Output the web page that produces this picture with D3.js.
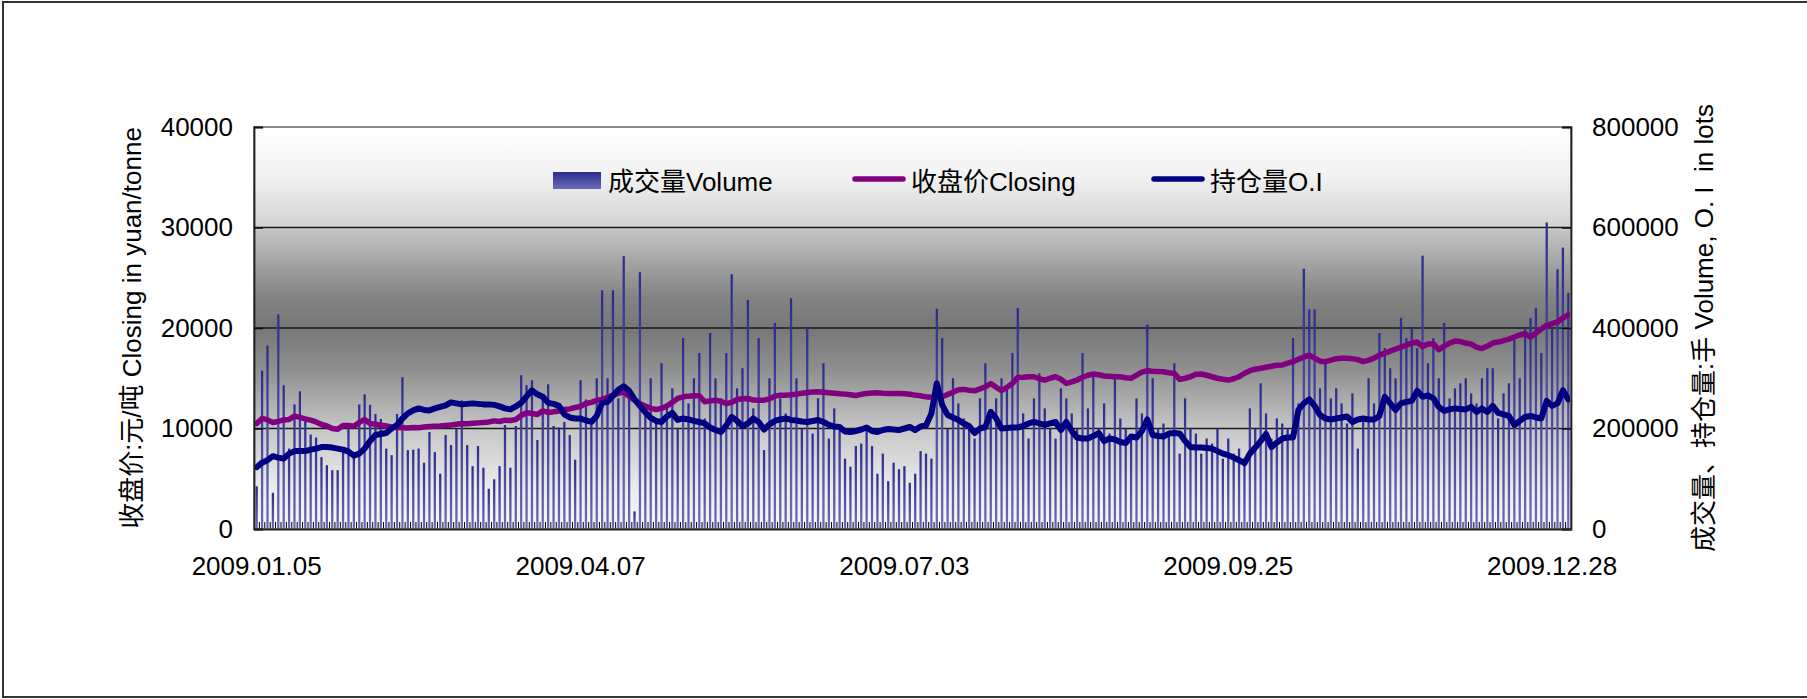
<!DOCTYPE html>
<html>
<head>
<meta charset="utf-8">
<script src="https://cdn.jsdelivr.net/npm/d3@7"></script>
<style>
  body { margin: 0; background: #fff; }
  svg text { font-family: "Liberation Sans", Arial, "Noto Sans CJK SC", sans-serif; fill: #000; }
</style>
</head>
<body>
<div id="chart"></div>
<script>
// trading days of 2009, one list per month
const monthDays = [
  [5,6,7,8,9,12,13,14,15,16,19,20,21,22,23],
  [2,3,4,5,6,9,10,11,12,13,16,17,18,19,20,23,24,25,26,27],
  [2,3,4,5,6,9,10,11,12,13,16,17,18,19,20,23,24,25,26,27,30,31],
  [1,2,3,7,8,9,10,13,14,15,16,17,20,21,22,23,24,27,28,29,30],
  [4,5,6,7,8,11,12,13,14,15,18,19,20,21,22,25,26,27],
  [1,2,3,4,5,8,9,10,11,12,15,16,17,18,19,22,23,24,25,26,29,30],
  [1,2,3,6,7,8,9,10,13,14,15,16,17,20,21,22,23,24,27,28,29,30,31],
  [3,4,5,6,7,10,11,12,13,14,17,18,19,20,21,24,25,26,27,28,31],
  [1,2,3,4,7,8,9,10,11,14,15,16,17,18,21,22,23,24,25,28,29,30],
  [9,12,13,14,15,16,19,20,21,22,23,26,27,28,29,30],
  [2,3,4,5,6,9,10,11,12,13,16,17,18,19,20,23,24,25,26,27,30],
  [1,2,3,4,7,8,9,10,11,14,15,16,17,18,21,22,23,24,25,28,29,30,31]
];
const pad = n => (n < 10 ? "0" : "") + n;
const dates = monthDays.flatMap((days, m) => days.map(d => "2009." + pad(m + 1) + "." + pad(d)));

const tickLabels = ["2009.01.05", "2009.04.07", "2009.07.03", "2009.09.25", "2009.12.28"];
const leftTicks = [0, 10000, 20000, 30000, 40000];
const rightTicks = [0, 200000, 400000, 600000, 800000];

// 成交量 volume, in thousand lots
const volume = [
  85,315,365,72,427,286,160,248,274,217,
  188,182,143,127,117,117,160,203,149,248,
  268,247,229,219,160,147,229,302,157,158,
  160,132,193,153,110,187,167,200,256,167,
  125,165,122,80,99,125,207,122,205,306,
  286,296,177,264,288,205,202,213,187,138,
  296,258,207,300,475,300,475,260,543,280,
  35,511,240,300,210,330,250,280,200,380,
  250,300,350,220,390,300,260,350,507,280,
  320,456,240,380,157,300,410,260,230,459,
  300,200,400,190,260,330,180,240,200,140,
  124,165,170,200,165,110,150,95,132,119,
  125,92,110,155,150,140,438,380,200,300,
  250,220,200,180,260,330,220,260,300,280,
  350,440,230,180,260,310,240,200,180,280,
  260,230,200,350,240,310,200,250,190,300,
  220,200,180,260,230,407,300,200,210,190,
  330,150,260,200,190,150,180,170,200,140,
  180,150,160,140,240,200,290,230,180,220,
  210,200,380,250,518,437,437,280,330,260,
  280,250,210,270,160,220,300,250,390,360,
  320,300,420,380,400,360,544,330,380,300,
  410,260,280,290,300,270,250,300,320,320,
  220,270,290,380,300,400,420,440,350,610,
  400,517,560,470
];

// 收盘价 closing, yuan/tonne
const closing = [
  10500,11000,10850,10600,10700,10850,10900,11230,11100,10950,
  10830,10650,10400,10250,10000,9930,10300,10300,10230,10600,
  10900,10500,10420,10330,10250,10150,10100,10080,10050,10100,
  10070,10150,10200,10230,10250,10300,10350,10430,10500,10480,
  10520,10560,10600,10650,10760,10700,10830,10800,10900,11300,
  11560,11500,11400,11760,11600,11660,11750,11890,11950,12090,
  12200,12490,12600,12800,12900,13100,13320,13500,13650,13200,
  12820,12500,12230,12000,11890,12000,12230,12600,12990,13150,
  13220,13250,13260,12660,12750,12820,12700,12490,12600,12890,
  12950,12990,12830,12820,12820,12950,13220,13300,13320,13350,
  13420,13500,13590,13620,13650,13600,13550,13500,13450,13420,
  13350,13290,13400,13490,13530,13560,13500,13480,13490,13490,
  13450,13400,13320,13250,13160,13100,13090,13150,13390,13600,
  13850,13890,13800,13750,13950,14150,14480,14100,13760,14100,
  14480,15080,15100,15150,15150,14950,14820,15000,15150,14900,
  14490,14650,14820,15100,15300,15420,15350,15220,15200,15150,
  15150,15050,14990,15300,15600,15750,15700,15680,15650,15550,
  15480,14890,15000,15150,15400,15420,15300,15150,15000,14900,
  14820,14950,15150,15500,15750,15900,16000,16100,16200,16300,
  16320,16500,16650,16900,17100,17310,17000,16700,16650,16800,
  16950,16980,17000,16950,16850,16650,16800,17000,17300,17500,
  17700,17900,18100,18300,18500,18600,18150,18400,18440,17850,
  18200,18500,18700,18650,18500,18400,18100,17950,18200,18500,
  18600,18750,18900,19100,19300,19430,19100,19500,19900,20270,
  20430,20600,21000,21300
];

// 持仓量 open interest, in thousand lots
const openInterest = [
  123,132,137,145,142,140,150,155,155,155,
  158,160,163,163,162,160,158,154,146,150,
  160,175,187,189,191,200,207,220,230,236,
  240,237,236,240,243,246,252,250,248,249,
  250,249,248,248,247,244,240,238,244,251,
  264,276,268,263,251,249,245,228,222,220,
  220,216,213,225,251,253,265,277,284,275,
  258,245,232,221,215,213,224,231,217,220,
  218,215,213,210,202,197,193,206,223,215,
  205,210,220,213,198,208,215,218,220,217,
  216,214,213,215,217,213,207,204,203,194,
  193,195,198,202,195,193,197,199,198,197,
  200,203,197,204,206,230,290,247,227,222,
  217,210,205,191,200,203,233,220,200,201,
  202,202,205,210,213,210,207,210,213,197,
  213,195,182,180,180,185,191,175,180,178,
  173,171,184,182,195,218,187,185,184,190,
  191,190,175,163,162,162,161,160,155,150,
  147,142,137,131,150,162,175,189,163,172,
  180,182,182,237,250,258,245,227,220,218,
  220,222,224,213,218,220,218,218,225,263,
  250,237,250,253,255,275,263,266,260,243,
  235,238,240,239,238,243,233,240,233,245,
  231,228,225,207,215,223,225,222,220,255,
  245,250,276,258
];

const W = 1807, H = 699;
const plot = { left: 254, right: 1571, top: 127, bottom: 529 };

const svg = d3.select("#chart").append("svg")
  .attr("width", W).attr("height", H);

const defs = svg.append("defs");
const bg = defs.append("linearGradient").attr("id", "plotBg")
  .attr("x1", 0).attr("y1", 0).attr("x2", 0).attr("y2", 1);
[[0, "#ffffff"], [0.12, "#f2f2f2"], [0.25, "#d2d2d2"], [0.26, "#c2c2c2"], [0.42, "#848484"],
 [0.5, "#777777"], [0.6, "#8e8e8e"], [0.75, "#c6c6c6"], [0.9, "#ececec"], [1, "#f8f8f8"]]
  .forEach(s => bg.append("stop").attr("offset", s[0]).attr("stop-color", s[1]));
const barGrad = defs.append("linearGradient").attr("id", "barFill")
  .attr("x1", 0).attr("y1", 0).attr("x2", 0).attr("y2", 1);
barGrad.append("stop").attr("offset", 0).attr("stop-color", "#2c2c90");
barGrad.append("stop").attr("offset", 1).attr("stop-color", "#6c6cb6");

// outer frame (right edge runs off the picture)
svg.append("rect").attr("x", 3).attr("y", 2).attr("width", W + 10).attr("height", H - 4)
  .attr("fill", "#fff").attr("stroke", "#333").attr("stroke-width", 2);

const x = d3.scaleBand().domain(dates).range([plot.left, plot.right]).padding(0);
const yL = d3.scaleLinear().domain([0, 40000]).range([plot.bottom, plot.top]);
const yR = d3.scaleLinear().domain([0, 800000]).range([plot.bottom, plot.top]);

svg.append("rect").attr("x", plot.left).attr("y", plot.top)
  .attr("width", plot.right - plot.left).attr("height", plot.bottom - plot.top)
  .attr("fill", "url(#plotBg)");

// gridlines
svg.append("g").selectAll("line").data(leftTicks.slice(1, -1)).join("line")
  .attr("x1", plot.left).attr("x2", plot.right)
  .attr("y1", d => yL(d)).attr("y2", d => yL(d))
  .attr("stroke", "#1a1a1a").attr("stroke-width", 1.3);

// volume bars
const bw = x.bandwidth() * 0.42;
svg.append("g").selectAll("rect").data(volume).join("rect")
  .attr("x", (d, i) => x(dates[i]) + (x.bandwidth() - bw) / 2)
  .attr("y", d => yR(d * 1000))
  .attr("width", bw)
  .attr("height", d => plot.bottom - yR(d * 1000))
  .attr("fill", "url(#barFill)");

// category tick marks, pointing up into the plot
const edges = dates.map(d => x(d)).concat([plot.right]);
svg.append("g").selectAll("line").data(edges).join("line")
  .attr("x1", d => d).attr("x2", d => d)
  .attr("y1", plot.bottom).attr("y2", plot.bottom - 7)
  .attr("stroke", "#000").attr("stroke-width", 1);

// lines
const cx = i => x(dates[i]) + x.bandwidth() / 2;
const closeLine = d3.line().x((d, i) => cx(i)).y(d => yL(d));
const oiLine = d3.line().x((d, i) => cx(i)).y(d => yR(d * 1000));

svg.append("path").datum(closing).attr("d", closeLine)
  .attr("fill", "none").attr("stroke", "#800080").attr("stroke-width", 5.5)
  .attr("stroke-linejoin", "round").attr("stroke-linecap", "round");
svg.append("path").datum(openInterest).attr("d", oiLine)
  .attr("fill", "none").attr("stroke", "#000080").attr("stroke-width", 6)
  .attr("stroke-linejoin", "round").attr("stroke-linecap", "round");

// plot frame
svg.append("rect").attr("x", plot.left).attr("y", plot.top)
  .attr("width", plot.right - plot.left).attr("height", plot.bottom - plot.top)
  .attr("fill", "none").attr("stroke", "#8a8a8a").attr("stroke-width", 2);

// axes
const fontSize = 26;
const axL = svg.append("g").attr("transform", `translate(${plot.left},0)`)
  .call(d3.axisLeft(yL).tickValues(leftTicks).tickSize(-9).tickPadding(21).tickFormat(d3.format("d")));
const axR = svg.append("g").attr("transform", `translate(${plot.right},0)`)
  .call(d3.axisRight(yR).tickValues(rightTicks).tickSize(-9).tickPadding(21).tickFormat(d3.format("d")));
const axB = svg.append("g").attr("transform", `translate(0,${plot.bottom})`)
  .call(d3.axisBottom(x).tickValues(tickLabels).tickSize(0).tickPadding(28));
[axL, axR, axB].forEach(a => {
  a.selectAll("text").style("font-size", fontSize + "px").attr("fill", "#000");
  a.selectAll("line").attr("stroke", "#111").attr("stroke-width", 1.5);
  a.select(".domain").attr("stroke", "#222").attr("stroke-width", 1.8);
});
axB.select(".domain").attr("stroke-width", 2);

// axis titles
svg.append("text")
  .attr("transform", `translate(141,${(plot.top + plot.bottom) / 2}) rotate(-90)`)
  .attr("text-anchor", "middle").style("font-size", "26px")
  .text("收盘价:元/吨 Closing in yuan/tonne");
svg.append("text")
  .attr("transform", `translate(1713,${(plot.top + plot.bottom) / 2}) rotate(-90)`)
  .attr("text-anchor", "middle").style("font-size", "26px").style("white-space", "pre")
  .text("成交量、持仓量:手 Volume, O. I  in lots");

// legend
const legend = [
  { label: "成交量Volume", type: "bar", x: 553 },
  { label: "收盘价Closing", type: "line", color: "#800080", x: 853 },
  { label: "持仓量O.I", type: "line", color: "#000080", x: 1152 }
];
const lg = svg.append("g").selectAll("g").data(legend).join("g")
  .attr("transform", d => `translate(${d.x},181)`);
lg.filter(d => d.type === "bar").append("rect")
  .attr("x", 0).attr("y", -9).attr("width", 48).attr("height", 17).attr("fill", "url(#barFill)");
lg.filter(d => d.type === "line").append("line")
  .attr("x1", 2).attr("x2", 50).attr("y1", -2).attr("y2", -2)
  .attr("stroke", d => d.color).attr("stroke-width", 5.5).attr("stroke-linecap", "round");
lg.append("text").attr("x", d => d.type === "bar" ? 55 : 58).attr("y", 10)
  .style("font-size", "26px").text(d => d.label);
</script>
</body>
</html>
